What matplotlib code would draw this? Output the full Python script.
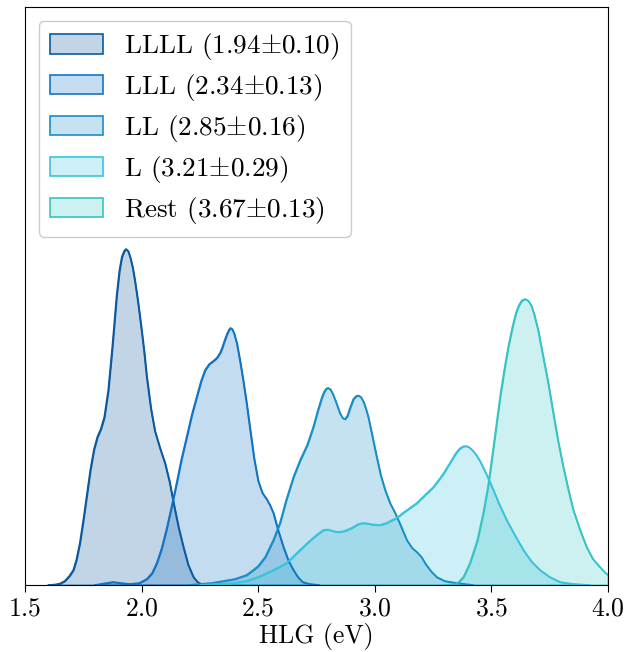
import matplotlib
matplotlib.use('Agg')
import matplotlib.pyplot as plt
from matplotlib.colors import to_rgba

plt.rcParams['font.family'] = 'serif'
plt.rcParams['font.serif'] = ['cmr10']
plt.rcParams['mathtext.fontset'] = 'cm'
plt.rcParams['axes.formatter.use_mathtext'] = True

# density curves (x in eV, y in arbitrary density units)
llll_x = [1.60, 1.63, 1.65, 1.67, 1.69, 1.707, 1.72, 1.735, 1.75, 1.765, 1.78, 1.795, 1.81,
          1.825, 1.84, 1.857, 1.875, 1.893, 1.905, 1.915, 1.925, 1.933, 1.942, 1.952,
          1.962, 1.972, 1.985, 1.997, 2.01, 2.022, 2.04, 2.057, 2.08, 2.10, 2.12,
          2.136, 2.158, 2.179, 2.20, 2.222, 2.24, 2.26, 2.30]
llll_y = [0.0, 0.005, 0.015, 0.04, 0.09, 0.15, 0.25, 0.42, 0.65, 0.90, 1.15, 1.35, 1.48,
          1.56, 1.68, 1.95, 2.40, 2.90, 3.15, 3.28, 3.34, 3.36, 3.34, 3.27,
          3.17, 3.03, 2.82, 2.60, 2.35, 2.08, 1.76, 1.54, 1.36, 1.22, 1.03,
          0.83, 0.58, 0.38, 0.20, 0.08, 0.03, 0.005, 0.0]

lll_x = [1.80, 1.85, 1.878, 1.91, 1.95, 1.99, 2.022, 2.045, 2.065, 2.085, 2.107, 2.13, 2.15,
         2.17, 2.193, 2.215, 2.236, 2.255, 2.272, 2.29, 2.307, 2.322, 2.336, 2.345, 2.355,
         2.366, 2.374, 2.381, 2.388, 2.396, 2.408, 2.422, 2.436, 2.45, 2.465, 2.482, 2.50,
         2.518, 2.536, 2.55, 2.565, 2.585, 2.608, 2.63, 2.651, 2.67, 2.69, 2.72, 2.76]
lll_y = [0.0, 0.02, 0.03, 0.02, 0.01, 0.02, 0.06, 0.12, 0.22, 0.36, 0.56, 0.80, 1.02,
         1.25, 1.48, 1.70, 1.88, 2.04, 2.15, 2.21, 2.24, 2.27, 2.32, 2.37, 2.44,
         2.51, 2.55, 2.57, 2.56, 2.52, 2.42, 2.24, 2.04, 1.82, 1.56, 1.27, 1.04,
         0.92, 0.86, 0.80, 0.72, 0.55, 0.38, 0.24, 0.15, 0.08, 0.03, 0.01, 0.0]

ll_x = [2.20, 2.30, 2.40, 2.45, 2.479, 2.50, 2.53, 2.565, 2.593, 2.62, 2.651, 2.68, 2.71,
        2.736, 2.755, 2.772, 2.782, 2.792, 2.80, 2.81, 2.82, 2.835, 2.85, 2.862, 2.872,
        2.882, 2.895, 2.908, 2.92, 2.93, 2.94, 2.952, 2.962, 2.972, 2.99, 3.008, 3.025,
        3.044, 3.065, 3.087, 3.11, 3.137, 3.16, 3.18, 3.20, 3.215, 3.24, 3.265, 3.30,
        3.351, 3.42]
ll_y = [0.0, 0.02, 0.06, 0.10, 0.15, 0.19, 0.28, 0.45, 0.62, 0.85, 1.08, 1.25, 1.40,
        1.58, 1.74, 1.87, 1.93, 1.965, 1.97, 1.955, 1.91, 1.82, 1.72, 1.67, 1.66,
        1.69, 1.78, 1.86, 1.89, 1.895, 1.88, 1.83, 1.76, 1.68, 1.48, 1.28, 1.10,
        0.95, 0.82, 0.72, 0.60, 0.45, 0.37, 0.33, 0.28, 0.22, 0.14, 0.08, 0.04,
        0.02, 0.0]

l_x = [2.25, 2.39, 2.45, 2.50, 2.565, 2.622, 2.679, 2.72, 2.75, 2.779, 2.80, 2.82, 2.843,
       2.87, 2.90, 2.93, 2.951, 2.97, 2.99, 3.022, 3.05, 3.07, 3.094, 3.12, 3.15, 3.18,
       3.215, 3.251, 3.29, 3.322, 3.345, 3.362, 3.377, 3.39, 3.403, 3.418, 3.435, 3.451,
       3.48, 3.508, 3.535, 3.565, 3.60, 3.637, 3.67, 3.708, 3.75, 3.794, 3.85, 3.92]
l_y = [0.0, 0.02, 0.04, 0.08, 0.15, 0.22, 0.35, 0.44, 0.50, 0.55, 0.555, 0.54, 0.53,
       0.54, 0.57, 0.61, 0.62, 0.615, 0.605, 0.60, 0.62, 0.645, 0.67, 0.72, 0.77, 0.82,
       0.90, 0.98, 1.10, 1.22, 1.31, 1.36, 1.385, 1.39, 1.38, 1.35, 1.30, 1.24,
       1.10, 0.95, 0.80, 0.65, 0.50, 0.35, 0.24, 0.15, 0.08, 0.03, 0.01, 0.0]

rest_x = [3.30, 3.351, 3.38, 3.408, 3.44, 3.465, 3.485, 3.501, 3.52, 3.537, 3.555, 3.572,
          3.59, 3.605, 3.618, 3.63, 3.644, 3.657, 3.67, 3.683, 3.70, 3.722, 3.745, 3.765,
          3.785, 3.808, 3.83, 3.851, 3.88, 3.908, 3.935, 3.965, 3.985, 4.0]
rest_y = [0.0, 0.01, 0.08, 0.22, 0.45, 0.72, 0.98, 1.25, 1.58, 1.88, 2.15, 2.38,
          2.58, 2.72, 2.80, 2.845, 2.86, 2.845, 2.80, 2.71, 2.55, 2.28, 2.00, 1.72,
          1.45, 1.18, 0.95, 0.75, 0.55, 0.38, 0.26, 0.18, 0.13, 0.10]

labels = [r'LLLL (1.94$\pm$0.10)', r'LLL (2.34$\pm$0.13)', r'LL (2.85$\pm$0.16)',
          r'L (3.21$\pm$0.29)', r'Rest (3.67$\pm$0.13)']
colors = ['#0d5a9e', '#1474c4', '#1a8fc6', '#3ac3dc', '#38c4c4']

curves = [(llll_x, llll_y), (lll_x, lll_y), (ll_x, ll_y), (l_x, l_y), (rest_x, rest_y)]

fig = plt.figure(figsize=(6.28, 6.52), dpi=100)
ax = fig.add_axes([25 / 628, 1 - 585 / 652, 583 / 628, 578 / 652])

for (xs, ys), c, lab in zip(curves, colors, labels):
    ax.fill_between(xs, ys, 0, facecolor=to_rgba(c, 0.25), edgecolor=c,
                    linewidth=1.2, label=lab)
    ax.plot(xs, ys, color=c, linewidth=1.2, solid_joinstyle='round')

ax.set_xlim(1.5, 4.0)
ax.set_ylim(0, 5.78)
ax.set_yticks([])
ax.set_xticks([1.5, 2.0, 2.5, 3.0, 3.5, 4.0])
ax.tick_params(axis='x', labelsize=18.5, direction='out', length=5)
ax.set_xlabel('HLG (eV)', fontsize=18.5, labelpad=2)
ax.legend(loc='upper left', fontsize=19.6, handlelength=1.95, borderaxespad=0.5,
          labelspacing=0.36, framealpha=1.0)

fig.savefig('out.png', dpi=100)
